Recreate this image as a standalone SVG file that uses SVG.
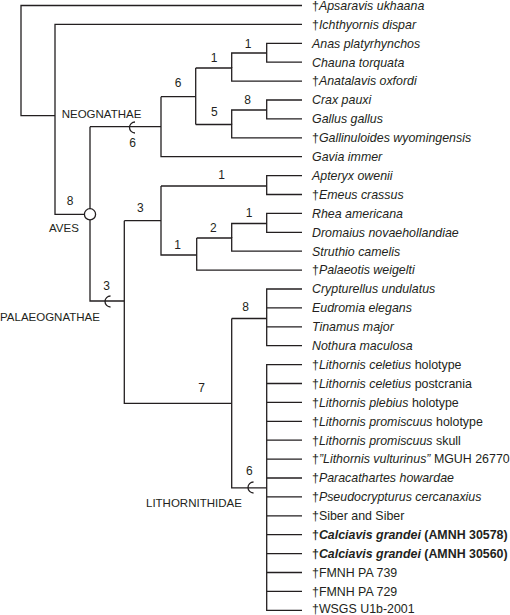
<svg xmlns="http://www.w3.org/2000/svg" width="510" height="615" viewBox="0 0 510 615">
<style>
.e{fill:none;stroke:#231f20;stroke-width:1.3}
.t{font-family:"Liberation Sans",Arial,sans-serif;font-size:12.4px;fill:#231f20}
.i{font-style:italic}
.b{font-weight:bold}
.n{font-family:"Liberation Sans",Arial,sans-serif;font-size:12px;fill:#231f20;text-anchor:middle}
.c{font-family:"Liberation Sans",Arial,sans-serif;font-size:11.5px;fill:#231f20}
</style>
<rect width="510" height="615" fill="#fff"/>
<g id="connectors">
<path class="e" d="M302,5.5H21V115.7H55"/>
<path class="e" d="M302,24.4H55V214.3H90"/>
<path class="e" d="M90,126.7V301H124.3"/>
<path class="e" d="M90,126.7H161"/>
<path class="e" d="M161,96.7V156.7H302"/>
<path class="e" d="M161,96.7H195.7"/>
<path class="e" d="M195.7,68V124.5"/>
<path class="e" d="M195.7,68H231.7V81.1H302"/>
<path class="e" d="M231.7,68V53H266.7"/>
<path class="e" d="M302,43.3H266.7V62.2H302"/>
<path class="e" d="M195.7,124.5H231.7V137.8H302"/>
<path class="e" d="M231.7,124.5V110H266.7"/>
<path class="e" d="M302,100H266.7V118.9H302"/>
<path class="e" d="M124.3,220.7V403.3H231.7"/>
<path class="e" d="M124.3,220.7H161"/>
<path class="e" d="M161,186V255H196.7"/>
<path class="e" d="M161,186H266.7"/>
<path class="e" d="M302,175.6H266.7V194.5H302"/>
<path class="e" d="M196.7,238H231.7V251.2H302"/>
<path class="e" d="M196.7,238V270.1H302"/>
<path class="e" d="M231.7,238V223.5H266.7"/>
<path class="e" d="M302,213.4H266.7V232.3H302"/>
<path class="e" d="M231.7,318.5V487.8H266.7"/>
<path class="e" d="M231.7,318.5H266.7"/>
<path class="e" d="M302,289H266.7V345.7H302M266.7,307.9H302M266.7,326.8H302"/>
<path class="e" d="M302,364.6H266.7V610.3H302M266.7,383.5H302M266.7,402.4H302M266.7,421.3H302M266.7,440.2H302M266.7,459.1H302M266.7,478H302M266.7,496.9H302M266.7,515.8H302M266.7,534.7H302M266.7,553.6H302M266.7,572.5H302M266.7,591.4H302"/>
<path class="e" d="M135,122 A5.5,5.5 0 0 0 135,133"/>
<path class="e" d="M110.5,296 A5.5,5.5 0 0 0 110.5,307"/>
<path class="e" d="M253.5,482 A5.5,5.5 0 0 0 253.5,493"/>
<circle cx="90" cy="214.3" r="5.6" fill="#fff" stroke="#231f20" stroke-width="1.3"/>
</g>
<g id="clade-labels">
<text class="c" x="61.7" y="117.5">NEOGNATHAE</text>
<text class="c" x="49" y="232">AVES</text>
<text class="c" x="0" y="321">PALAEOGNATHAE</text>
<text class="c" x="146" y="507">LITHORNITHIDAE</text>
</g>
<g id="branch-support">
<text class="n" x="248" y="47.5">1</text>
<text class="n" x="214" y="61.5">1</text>
<text class="n" x="247.7" y="103.5">8</text>
<text class="n" x="214.3" y="116">5</text>
<text class="n" x="178" y="87">6</text>
<text class="n" x="132.7" y="147">6</text>
<text class="n" x="70" y="204.5">8</text>
<text class="n" x="221.7" y="178.5">1</text>
<text class="n" x="140.3" y="211.5">3</text>
<text class="n" x="249" y="217">1</text>
<text class="n" x="213.3" y="231.5">2</text>
<text class="n" x="177.7" y="248.5">1</text>
<text class="n" x="106.7" y="289.5">3</text>
<text class="n" x="245.7" y="311">8</text>
<text class="n" x="201.7" y="391.5">7</text>
<text class="n" x="249.3" y="474.5">6</text>
</g>
<g id="taxa">
<text class="t" x="312" y="9.8">†<tspan class="i">Apsaravis ukhaana</tspan></text>
<text class="t" x="312" y="28.7">†<tspan class="i">Ichthyornis dispar</tspan></text>
<text class="t i" x="312" y="47.6">Anas platyrhynchos</text>
<text class="t i" x="312" y="66.5">Chauna torquata</text>
<text class="t" x="312" y="85.4">†<tspan class="i">Anatalavis oxfordi</tspan></text>
<text class="t i" x="312" y="104.3">Crax pauxi</text>
<text class="t i" x="312" y="123.2">Gallus gallus</text>
<text class="t" x="312" y="142.1">†<tspan class="i">Gallinuloides wyomingensis</tspan></text>
<text class="t i" x="312" y="161">Gavia immer</text>
<text class="t i" x="312" y="179.9">Apteryx owenii</text>
<text class="t" x="312" y="198.8">†<tspan class="i">Emeus crassus</tspan></text>
<text class="t i" x="312" y="217.7">Rhea americana</text>
<text class="t i" x="312" y="236.6">Dromaius novaehollandiae</text>
<text class="t i" x="312" y="255.5">Struthio camelis</text>
<text class="t" x="312" y="274.4">†<tspan class="i">Palaeotis weigelti</tspan></text>
<text class="t i" x="312" y="293.3">Crypturellus undulatus</text>
<text class="t i" x="312" y="312.2">Eudromia elegans</text>
<text class="t i" x="312" y="331.1">Tinamus major</text>
<text class="t i" x="312" y="350">Nothura maculosa</text>
<text class="t" x="312" y="368.9">†<tspan class="i">Lithornis celetius</tspan> holotype</text>
<text class="t" x="312" y="387.8">†<tspan class="i">Lithornis celetius</tspan> postcrania</text>
<text class="t" x="312" y="406.7">†<tspan class="i">Lithornis plebius</tspan> holotype</text>
<text class="t" x="312" y="425.6">†<tspan class="i">Lithornis promiscuus</tspan> holotype</text>
<text class="t" x="312" y="444.5">†<tspan class="i">Lithornis promiscuus</tspan> skull</text>
<text class="t" x="312" y="463.4">†<tspan class="i">”Lithornis vulturinus”</tspan> MGUH 26770</text>
<text class="t" x="312" y="482.3">†<tspan class="i">Paracathartes howardae</tspan></text>
<text class="t" x="312" y="501.2">†<tspan class="i">Pseudocrypturus cercanaxius</tspan></text>
<text class="t" x="312" y="520.1">†Siber and Siber</text>
<text class="t b" x="312" y="539">†<tspan class="i">Calciavis grandei</tspan> (AMNH 30578)</text>
<text class="t b" x="312" y="557.9">†<tspan class="i">Calciavis grandei</tspan> (AMNH 30560)</text>
<text class="t" x="312" y="576.8">†FMNH PA 739</text>
<text class="t" x="312" y="595.7">†FMNH PA 729</text>
<text class="t" x="312" y="613.4">†WSGS U1b-2001</text>
</g>
</svg>
